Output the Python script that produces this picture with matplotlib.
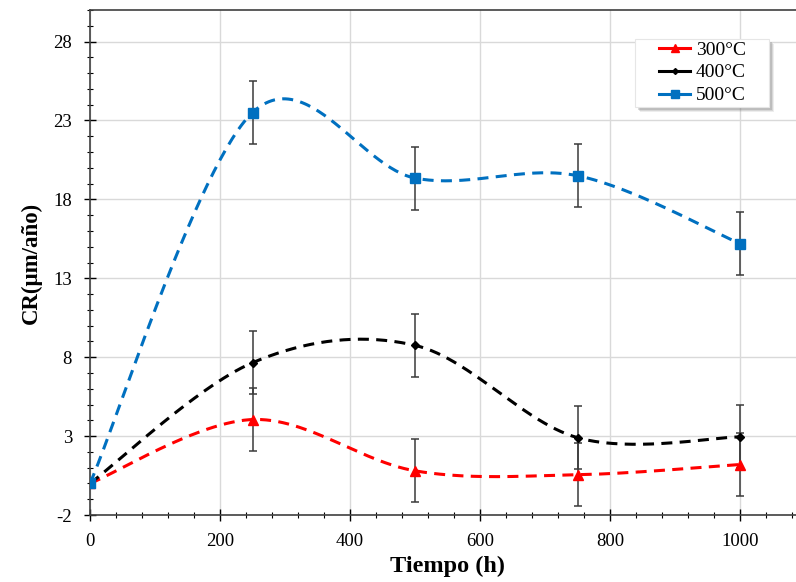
import numpy as np
import matplotlib.pyplot as plt
from matplotlib.patches import Rectangle
from matplotlib.ticker import MultipleLocator

# data
tiempo = [0, 250, 500, 750, 1000]
cr_300 = [0.0, 4.05, 0.8, 0.55, 1.2]
cr_400 = [0.0, 7.65, 8.75, 2.9, 2.95]
cr_500 = [0.0, 23.5, 19.35, 19.5, 15.2]
err_300 = [0, 2.0, 2.0, 2.0, 2.0]
err_400 = [0, 2.0, 2.0, 2.0, 2.0]
err_500 = [0, 2.0, 2.0, 2.0, 2.0]

series = [
    ('300°C', cr_300, err_300, '#FF0000', '^', 6.5),
    ('400°C', cr_400, err_400, '#000000', 'D', 4),
    ('500°C', cr_500, err_500, '#0070C0', 's', 6.5),
]


def excel_smooth(x, y, n=60):
    # bezier smoothing like a spreadsheet "smoothed line"
    p = np.column_stack([x, y]).astype(float)
    out = []
    for i in range(len(p) - 1):
        p0 = p[i - 1] if i > 0 else p[i]
        p1, p2 = p[i], p[i + 1]
        p3 = p[i + 2] if i + 2 < len(p) else p[i + 1]
        c1 = p1 + (p2 - p0) / 6
        c2 = p2 - (p3 - p1) / 6
        t = np.linspace(0, 1, n)[:, None]
        seg = ((1 - t) ** 3 * p1 + 3 * (1 - t) ** 2 * t * c1
               + 3 * (1 - t) * t ** 2 * c2 + t ** 3 * p2)
        out.append(seg if i == 0 else seg[1:])
    out = np.vstack(out)
    return out[:, 0], out[:, 1]


plt.rcParams['font.family'] = ['Liberation Serif', 'DejaVu Serif']
plt.rcParams['axes.unicode_minus'] = False

W, H = 796, 582
fig = plt.figure(figsize=(W / 100, H / 100), dpi=100)
ax = fig.add_axes([90 / W, (H - 515) / H, 715 / W, 505 / H])

for label, vals, err, col, mk, ms in series:
    ax.errorbar(tiempo[1:], vals[1:], yerr=err[1:], fmt='none',
                ecolor='#3a3a3a', elinewidth=1.1, capsize=3, capthick=1.1, zorder=2)
    xs, ys = excel_smooth(tiempo, vals)
    ax.plot(xs, ys, color=col, lw=2.2, dashes=(3.6, 2.4), zorder=3)
    ax.plot(tiempo, vals, linestyle='none', marker=mk, ms=ms, color=col, zorder=4)
    ax.plot([], [], color=col, lw=2.2, marker=mk, ms=ms - 1, label=label)

ax.set_xlim(0, 1100)
ax.set_ylim(-2, 30)
ax.set_xticks([0, 200, 400, 600, 800, 1000])
ax.set_yticks([-2, 3, 8, 13, 18, 23, 28])
ax.xaxis.set_minor_locator(MultipleLocator(40))
ax.yaxis.set_minor_locator(MultipleLocator(1))
ax.tick_params(which='major', direction='inout', length=8, width=1, labelsize=13.5)
ax.tick_params(axis='y', which='major', pad=9)
ax.tick_params(axis='x', which='major', pad=9)
ax.tick_params(which='minor', direction='inout', length=5, width=0.8)
ax.grid(True, which='major', color='#d9d9d9', lw=1)
ax.set_axisbelow(True)
for s in ['top', 'left', 'bottom']:
    ax.spines[s].set_color('#404040')
    ax.spines[s].set_linewidth(1.2)
ax.spines['right'].set_visible(False)

ax.set_xlabel('Tiempo (h)', fontsize=17.5, fontweight='bold', labelpad=4)
ax.set_ylabel('CR(μm/año)', fontsize=16.5, fontweight='bold', labelpad=8)

# legend box with a soft shadow, drawn by hand so it can be wider than its content
bx0, by0, bx1, by1 = 635, 39, 769, 107
for off, a in [(5, 0.12), (4, 0.18), (3, 0.25)]:
    ax.add_patch(Rectangle(((bx0 + off) / W, (H - by1 - off) / H),
                           (bx1 - bx0) / W, (by1 - by0) / H,
                           transform=fig.transFigure, facecolor='#707070',
                           edgecolor='none', alpha=a, zorder=5, clip_on=False))
ax.add_patch(Rectangle((bx0 / W, (H - by1) / H), (bx1 - bx0) / W, (by1 - by0) / H,
                       transform=fig.transFigure, facecolor='white',
                       edgecolor='#e6e6e6', lw=0.8, zorder=6, clip_on=False))
leg = ax.legend(loc='upper left', bbox_to_anchor=(659 / W, 1 - 41 / H),
                bbox_transform=fig.transFigure, fontsize=14, frameon=False,
                handlelength=1.6, handletextpad=0.3, labelspacing=0.27,
                borderpad=0, borderaxespad=0)
leg.set_zorder(7)

fig.savefig('out.png', dpi=100)
